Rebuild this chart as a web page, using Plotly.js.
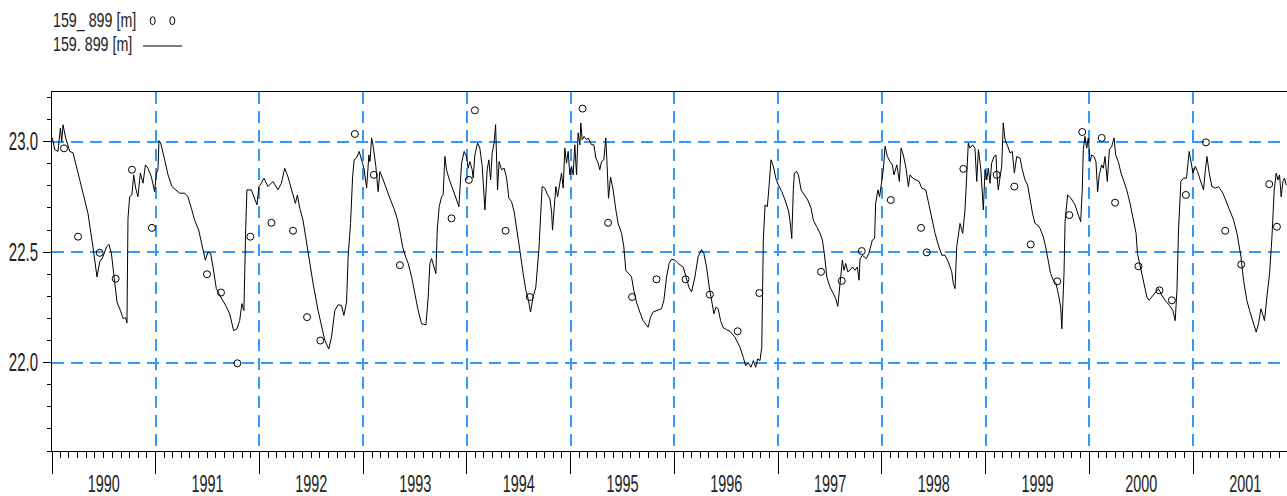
<!DOCTYPE html>
<html>
<head>
<meta charset="utf-8">
<script src="https://cdn.plot.ly/plotly-3.0.1.min.js"></script>
<style>
html,body{margin:0;padding:0;background:#fff;}
#chart{width:1287px;height:496px;}
</style>
</head>
<body>
<div id="chart"></div>
<script>
// ---- data (decimal years, water level in m) ----
const seriesNames = ["159_ 899 [m]", "159. 899 [m]"];

const lineYears = [
1990.004,1990.026,1990.058,1990.081,1990.094,1990.106,1990.132,1990.171,1990.203,1990.235,1990.277,1990.315,1990.347,1990.395,1990.434,1990.460,1990.492,1990.525,1990.550,1990.573,1990.605,1990.627,1990.660,1990.685,1990.711,1990.723,1990.733,1990.749,1990.771,1990.788,1990.807,1990.829,1990.852,1990.878,1990.901,1990.926,1990.959,1990.990,
1991.007,1991.022,1991.032,1991.048,1991.087,1991.119,1991.157,1991.200,1991.231,1991.280,1991.311,1991.344,1991.376,1991.415,1991.446,1991.479,1991.504,1991.530,1991.553,1991.585,1991.627,1991.675,1991.714,1991.752,1991.784,1991.810,1991.832,1991.851,1991.868,1991.880,1991.923,1991.955,1991.977,1991.996,
1992.019,1992.044,1992.083,1992.131,1992.179,1992.212,1992.244,1992.276,1992.324,1992.347,1992.366,1992.389,1992.420,1992.469,1992.517,1992.565,1992.581,1992.630,1992.668,1992.694,1992.726,1992.758,1992.791,1992.813,1992.839,1992.854,1992.877,1992.897,1992.912,1992.935,1992.960,1992.984,
1993.006,1993.032,1993.054,1993.064,1993.080,1993.095,1993.121,1993.143,1993.160,1993.192,1993.225,1993.263,1993.295,1993.327,1993.353,1993.379,1993.408,1993.433,1993.466,1993.497,1993.529,1993.562,1993.604,1993.626,1993.642,1993.659,1993.684,1993.700,1993.713,1993.732,1993.755,1993.770,1993.787,1993.803,1993.825,1993.851,1993.883,1993.922,1993.948,1993.973,1993.996,
1994.011,1994.028,1994.050,1994.060,1994.076,1994.102,1994.124,1994.147,1994.173,1994.195,1994.211,1994.228,1994.243,1994.262,1994.276,1994.285,1994.295,1994.310,1994.333,1994.359,1994.382,1994.404,1994.430,1994.455,1994.478,1994.510,1994.542,1994.568,1994.590,1994.613,1994.638,1994.664,1994.693,1994.712,1994.725,1994.751,1994.777,1994.799,1994.816,1994.825,1994.841,1994.857,1994.874,1994.896,1994.912,1994.928,1994.944,1994.960,1994.976,1994.992,
1995.009,1995.024,1995.040,1995.057,1995.072,1995.089,1995.098,1995.111,1995.130,1995.153,1995.169,1995.201,1995.224,1995.243,1995.265,1995.281,1995.298,1995.320,1995.339,1995.352,1995.365,1995.385,1995.410,1995.436,1995.458,1995.491,1995.513,1995.532,1995.564,1995.587,1995.609,1995.635,1995.667,1995.699,1995.747,1995.770,1995.795,1995.828,1995.876,1995.899,1995.925,1995.950,1995.973,
1996.005,1996.037,1996.085,1996.111,1996.140,1996.166,1996.198,1996.229,1996.262,1996.284,1996.310,1996.336,1996.359,1996.381,1996.400,1996.422,1996.445,1996.470,1996.503,1996.535,1996.583,1996.631,1996.663,1996.686,1996.711,1996.737,1996.760,1996.783,1996.802,1996.824,1996.841,1996.856,1996.873,1996.895,1996.911,1996.930,1996.953,1996.976,
1997.001,1997.034,1997.065,1997.097,1997.114,1997.130,1997.145,1997.155,1997.178,1997.194,1997.220,1997.249,1997.284,1997.316,1997.338,1997.371,1997.403,1997.425,1997.444,1997.468,1997.499,1997.531,1997.554,1997.574,1997.596,1997.618,1997.634,1997.651,1997.670,1997.692,1997.715,1997.740,1997.762,1997.779,1997.789,1997.811,1997.849,1997.874,1997.907,1997.929,1997.939,1997.961,1997.977,1997.998,
1998.013,1998.030,1998.052,1998.078,1998.100,1998.116,1998.143,1998.168,1998.184,1998.206,1998.232,1998.255,1998.271,1998.297,1998.326,1998.358,1998.384,1998.422,1998.447,1998.480,1998.512,1998.544,1998.577,1998.608,1998.640,1998.673,1998.688,1998.705,1998.721,1998.753,1998.779,1998.801,1998.818,1998.833,1998.849,1998.875,1998.897,1998.914,1998.930,1998.953,1998.978,1998.994,
1999.011,1999.026,1999.042,1999.058,1999.081,1999.100,1999.107,1999.122,1999.139,1999.155,1999.170,1999.187,1999.213,1999.235,1999.257,1999.277,1999.300,1999.332,1999.354,1999.380,1999.405,1999.429,1999.452,1999.476,1999.502,1999.524,1999.556,1999.579,1999.604,1999.627,1999.653,1999.679,1999.701,1999.724,1999.735,1999.756,1999.766,1999.791,1999.823,1999.862,1999.894,1999.917,1999.932,1999.942,1999.958,1999.975,1999.990,
2000.007,2000.023,2000.045,2000.064,2000.080,2000.096,2000.119,2000.135,2000.151,2000.173,2000.193,2000.216,2000.238,2000.254,2000.279,2000.305,2000.328,2000.360,2000.392,2000.424,2000.450,2000.463,2000.489,2000.521,2000.554,2000.575,2000.601,2000.633,2000.665,2000.698,2000.729,2000.771,2000.804,2000.826,2000.843,2000.858,2000.881,2000.906,2000.935,2000.961,2000.977,2000.997,
2001.019,2001.041,2001.067,2001.099,2001.115,2001.132,2001.154,2001.180,2001.212,2001.244,2001.286,2001.318,2001.350,2001.389,2001.422,2001.443,2001.460,2001.485,2001.517,2001.543,2001.576,2001.607,2001.629,2001.653,2001.668,2001.687,2001.710,2001.736,2001.759,2001.781,2001.800,2001.817,2001.832,2001.848,2001.865,2001.880,2001.896
];
const lineLevels = [
23.017,22.964,22.956,23.062,23.000,23.077,23.017,22.956,22.950,22.890,22.800,22.740,22.676,22.524,22.388,22.456,22.479,22.524,22.535,22.494,22.373,22.274,22.236,22.200,22.203,22.180,22.653,22.751,22.759,22.850,22.790,22.751,22.858,22.812,22.895,22.880,22.840,22.774,
22.858,22.873,23.005,22.994,22.918,22.850,22.797,22.782,22.767,22.767,22.751,22.699,22.645,22.600,22.540,22.464,22.500,22.494,22.433,22.335,22.297,22.259,22.221,22.145,22.153,22.190,22.267,22.236,22.600,22.782,22.782,22.736,22.714,22.797,
22.812,22.835,22.797,22.820,22.782,22.812,22.880,22.840,22.759,22.721,22.759,22.699,22.645,22.494,22.358,22.236,22.199,22.100,22.062,22.115,22.236,22.262,22.259,22.214,22.274,22.479,22.630,22.840,22.918,22.926,22.956,22.918,
22.880,22.790,22.940,22.910,23.017,22.980,22.888,22.774,22.865,22.827,22.782,22.736,22.699,22.653,22.593,22.524,22.479,22.449,22.388,22.312,22.236,22.176,22.171,22.297,22.449,22.471,22.433,22.403,22.600,22.706,22.751,22.759,22.933,22.873,22.835,22.797,22.759,22.706,22.903,22.956,22.933,
22.880,22.910,22.873,22.835,22.940,22.994,22.971,22.888,22.691,22.873,22.918,22.827,22.949,22.994,23.077,22.933,22.782,22.910,22.873,22.880,22.835,22.744,22.729,22.683,22.600,22.509,22.403,22.327,22.290,22.229,22.297,22.342,22.509,22.660,22.797,22.790,22.759,22.744,22.683,22.600,22.721,22.797,22.751,22.827,22.858,22.790,22.971,22.903,22.956,22.850,
22.888,22.850,22.986,22.850,23.040,22.986,23.085,23.009,23.024,23.009,23.017,22.986,22.986,22.926,22.903,22.873,22.910,22.918,23.017,22.888,22.744,22.840,22.782,22.691,22.630,22.585,22.524,22.418,22.403,22.388,22.327,22.274,22.229,22.190,22.160,22.206,22.229,22.236,22.244,22.282,22.388,22.449,22.468,
22.464,22.449,22.433,22.388,22.342,22.320,22.388,22.479,22.512,22.494,22.433,22.342,22.282,22.221,22.251,22.244,22.190,22.158,22.149,22.142,22.115,22.070,22.024,21.986,22.000,21.979,22.009,21.979,22.017,22.009,22.070,22.555,22.714,22.706,22.797,22.918,22.888,22.835,
22.804,22.774,22.736,22.691,22.638,22.562,22.782,22.858,22.865,22.850,22.782,22.759,22.736,22.699,22.645,22.615,22.585,22.555,22.494,22.388,22.342,22.312,22.290,22.255,22.373,22.464,22.418,22.449,22.411,22.418,22.433,22.418,22.433,22.373,22.471,22.486,22.471,22.494,22.555,22.562,22.721,22.782,22.751,22.812,
22.873,22.979,22.933,22.910,22.895,22.850,22.895,22.820,22.971,22.940,22.880,22.797,22.850,22.835,22.827,22.820,22.790,22.782,22.729,22.653,22.585,22.532,22.486,22.486,22.456,22.411,22.358,22.335,22.524,22.630,22.585,22.691,22.873,22.994,22.971,22.986,22.971,22.820,22.964,22.880,22.691,22.873,
22.827,22.880,22.812,22.903,22.933,22.940,22.865,22.782,22.840,22.888,23.085,23.009,22.979,22.949,22.956,22.858,22.933,22.926,22.873,22.827,22.804,22.736,22.676,22.630,22.623,22.608,22.570,22.524,22.464,22.403,22.373,22.358,22.312,22.251,22.153,22.403,22.638,22.759,22.744,22.714,22.668,22.638,22.782,22.964,23.024,22.971,23.017,
22.910,22.940,22.933,22.910,22.774,22.850,22.895,22.880,22.933,22.820,22.964,22.979,23.017,22.940,22.910,22.858,22.827,22.782,22.721,22.645,22.585,22.494,22.433,22.358,22.297,22.282,22.297,22.312,22.335,22.305,22.282,22.259,22.236,22.190,22.327,22.600,22.820,22.835,22.835,22.956,22.918,22.858,
22.888,22.865,22.827,22.782,22.865,22.933,22.858,22.797,22.790,22.797,22.767,22.729,22.683,22.645,22.585,22.524,22.479,22.373,22.282,22.236,22.190,22.138,22.176,22.244,22.221,22.190,22.297,22.403,22.570,22.782,22.858,22.827,22.850,22.751,22.820,22.835,22.804
];

const obsYears = [
1990.116,1990.251,1990.460,1990.614,1990.771,1990.964,1991.495,1991.630,1991.788,1991.913,
1992.116,1992.324,1992.459,1992.586,1992.919,1993.102,1993.353,1993.851,1994.018,1994.076,
1994.372,1994.606,1995.115,1995.361,1995.593,1995.828,1996.108,1996.342,1996.609,1996.818,
1997.412,1997.612,1997.805,1998.085,1998.377,1998.432,1998.785,1999.107,1999.277,1999.435,
1999.691,1999.807,1999.932,2000.119,2000.248,2000.473,2000.675,2000.794,2000.929,2001.122,
2001.308,2001.463,2001.733,2001.807
];
const obsLevels = [
22.970,22.570,22.497,22.380,22.873,22.610,22.400,22.317,21.997,22.570,
22.633,22.597,22.206,22.100,23.035,22.850,22.441,22.653,22.827,23.142,
22.597,22.297,23.150,22.633,22.297,22.377,22.377,22.308,22.142,22.315,
22.411,22.370,22.505,22.736,22.610,22.499,22.877,22.850,22.797,22.535,
22.368,22.668,23.044,23.017,22.724,22.436,22.327,22.282,22.759,22.997,
22.597,22.444,22.808,22.615
];

const xRange = ["1990-01-01", "2001-11-27"];
const yRange = [21.6, 23.225];

// ---- helpers ----
function yearToDate(fy) {
  const y = Math.floor(fy);
  const s = Date.UTC(y, 0, 1), e = Date.UTC(y + 1, 0, 1);
  return new Date(s + (fy - y) * (e - s)).toISOString().replace('T', ' ').slice(0, 19);
}

const FONT = '"Liberation Sans", Arial, sans-serif';
const GRID = '#3399FF';
const DASH = '12px,7px';
const TXT = '#222';

const traces = [
  {
    x: lineYears.map(yearToDate), y: lineLevels, name: seriesNames[1],
    type: 'scatter', mode: 'lines',
    line: {color: '#000', width: 1}
  },
  {
    x: obsYears.map(yearToDate), y: obsLevels, name: seriesNames[0],
    type: 'scatter', mode: 'markers',
    marker: {symbol: 'circle-open', size: 7, color: '#000', line: {width: 1, color: '#000'}}
  }
];

// plot area: x 52..1287, y 92..451
const W = 1235, H = 359;
const px = v => (v - 52) / W;
const py = v => (451 - v) / H;

const layout = {
  width: 1287, height: 496,
  margin: {l: 52, r: 0, t: 92, b: 45},
  paper_bgcolor: '#fff', plot_bgcolor: '#fff',
  showlegend: false,
  font: {family: FONT, color: TXT},
  xaxis: {
    type: 'date', range: xRange,
    tick0: '1990-01-01', dtick: 'M12', ticklabelmode: 'period', tickformat: '%Y',
    ticks: 'outside', ticklen: 22, tickwidth: 1, tickcolor: '#000',
    ticklabelstandoff: -11,
    showline: true, linecolor: '#000', linewidth: 1, mirror: true,
    showgrid: true, gridcolor: GRID, gridwidth: 2, griddash: DASH,
    zeroline: false,
    tickfont: {family: FONT, size: 24, color: TXT},
    minor: {dtick: 'M1', tick0: '1990-01-01', ticks: 'outside', ticklen: 6, tickcolor: '#000', tickwidth: 1, showgrid: false}
  },
  yaxis: {
    range: yRange, tick0: 0, dtick: 0.5, tickformat: '.1f',
    ticks: 'outside', ticklen: 8, tickwidth: 1, tickcolor: '#000',
    showline: true, linecolor: '#000', linewidth: 1,
    showgrid: true, gridcolor: GRID, gridwidth: 2, griddash: DASH,
    zeroline: false,
    tickfont: {family: FONT, size: 25, color: TXT},
    minor: {dtick: 0.1, tick0: 0, ticks: 'outside', ticklen: 4, tickcolor: '#000', tickwidth: 1, showgrid: false}
  },
  annotations: [
    {text: seriesNames[0], xref: 'paper', yref: 'paper', x: px(51), y: py(20.5), xanchor: 'left', yanchor: 'middle', align: 'left',
     showarrow: false, font: {family: FONT, size: 21, color: TXT}},
    {text: seriesNames[1], xref: 'paper', yref: 'paper', x: px(51), y: py(43.5), xanchor: 'left', yanchor: 'middle', align: 'left',
     showarrow: false, font: {family: FONT, size: 21, color: TXT}}
  ],
  shapes: [
    {type: 'circle', xref: 'paper', yref: 'paper', x0: px(150.2), x1: px(155.2), y0: py(24.7), y1: py(16.7), line: {color: '#000', width: 1}},
    {type: 'circle', xref: 'paper', yref: 'paper', x0: px(169.8), x1: px(174.8), y0: py(24.7), y1: py(16.7), line: {color: '#000', width: 1}},
    {type: 'line', xref: 'paper', yref: 'paper', x0: px(143), x1: px(182), y0: py(46), y1: py(46), line: {color: '#000', width: 1}}
  ]
};

// condense text horizontally (the reference uses a narrow typeface)
function condense(selector, sx) {
  document.querySelectorAll(selector).forEach(t => {
    const x = parseFloat(t.getAttribute('x')) || 0;
    const y = parseFloat(t.getAttribute('y')) || 0;
    const base = t.getAttribute('transform') || '';
    t.setAttribute('transform', base + ' translate(' + x + ' ' + y + ') scale(' + sx + ' 1) translate(' + (-x) + ' ' + (-y) + ')');
  });
}

Plotly.newPlot('chart', traces, layout, {displayModeBar: false, staticPlot: true}).then(() => {
  condense('#chart .xtick text', 0.6);
  condense('#chart .ytick text', 0.6);
  condense('#chart .annotation-text', 0.68);
});
</script>
</body>
</html>
